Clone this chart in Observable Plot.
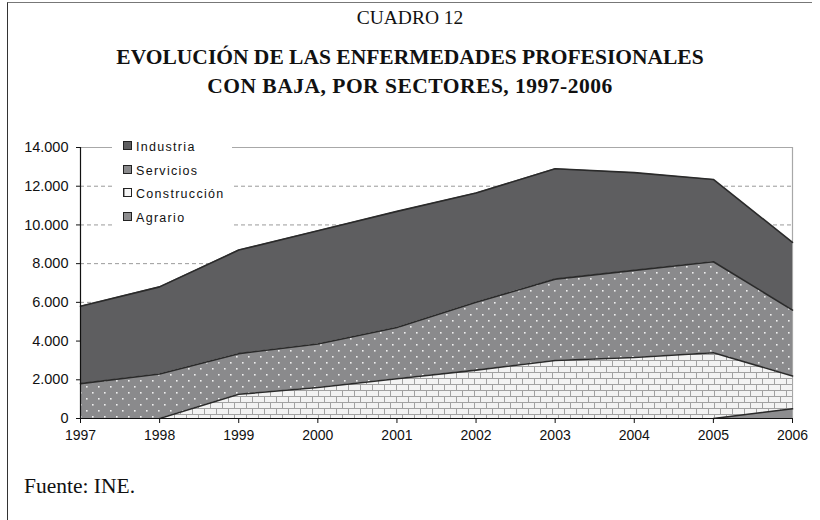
<!DOCTYPE html>
<html>
<head>
<meta charset="utf-8">
<script src="https://cdn.jsdelivr.net/npm/d3@7"></script>
<script src="https://cdn.jsdelivr.net/npm/@observablehq/plot@0.6"></script>
<style>
  html, body { margin: 0; padding: 0; background: #fff; }
  #page { position: relative; width: 820px; height: 520px; overflow: hidden; background: #fff; }
  #frame { position: absolute; left: 7px; top: 2px; width: 805px; height: 530px; border-left: 1.5px solid #333; border-top: 1.5px solid #777; box-sizing: border-box; }
  #title { position: absolute; left: 0; top: 0; width: 820px; height: 120px; text-align: center; font-family: "Liberation Serif", "Times New Roman", serif; color: #111; }
  #t1 { position: absolute; left: 0; width: 820px; top: 7px; font-size: 19.5px; }
  #t2 { position: absolute; left: 0; width: 820px; top: 45px; font-size: 21.5px; font-weight: bold; }
  #t3 { position: absolute; left: 0; width: 820px; top: 74px; font-size: 21.5px; font-weight: bold; letter-spacing: 0.5px; }
  #chart { position: absolute; left: 0; top: 120px; }
  #caption { position: absolute; left: 24px; top: 474px; font-family: "Liberation Serif", "Times New Roman", serif; font-size: 21.5px; color: #111; }
  #legend { position: absolute; left: 112px; top: 137px; width: 120px; height: 92px; background: #fff; font-family: "Liberation Sans", Arial, sans-serif; font-size: 12.5px; letter-spacing: 1.3px; color: #111; }
  .item { position: absolute; left: 11px; height: 14px; line-height: 14px; white-space: nowrap; }
  .sw { display: inline-block; width: 7px; height: 7px; border: 1px solid #222; vertical-align: 1px; margin-right: 4px; box-sizing: content-box; }
</style>
</head>
<body>
<div id="page">
  <div id="frame"></div>
  <div id="title">
    <div id="t1">CUADRO 12</div>
    <div id="t2">EVOLUCIÓN DE LAS ENFERMEDADES PROFESIONALES</div>
    <div id="t3">CON BAJA, POR SECTORES, 1997-2006</div>
  </div>
  <div id="chart"></div>
  <div id="legend"></div>
  <div id="caption">Fuente: INE.</div>
</div>
<script>
// ---- Data (number of cases per sector) ----
const years = [1997, 1998, 1999, 2000, 2001, 2002, 2003, 2004, 2005, 2006];
const agrario      = [0, 0, 0, 0, 0, 0, 0, 0, 0, 500];
const construccion = [0, 0, 1250, 1600, 2050, 2500, 3000, 3150, 3400, 1700];
const servicios    = [1800, 2300, 2100, 2250, 2650, 3500, 4200, 4500, 4700, 3400];
const industria    = [4000, 4500, 5350, 5850, 6000, 5650, 5700, 5050, 4250, 3500];
const sectors = ["Agrario", "Construcción", "Servicios", "Industria"]; // stack order, bottom to top
const legendOrder = ["Industria", "Servicios", "Construcción", "Agrario"];
const yTicks = [0, 2000, 4000, 6000, 8000, 10000, 12000, 14000];
const gridTicks = [2000, 4000, 6000, 8000, 10000, 12000];

const seriesValues = { "Agrario": agrario, "Construcción": construccion, "Servicios": servicios, "Industria": industria };
const data = [];
for (const s of sectors) years.forEach((yr, i) => data.push({ year: yr, sector: s, value: seriesValues[s][i] }));

const fills = { "Agrario": "#8d8d8f", "Construcción": "url(#brick)", "Servicios": "url(#dots)", "Industria": "#5e5e60" };
const fmt = d3.formatLocale({ decimal: ",", thousands: ".", grouping: [3], currency: ["", ""] }).format(",");

// line visibility: skip segments lying on the zero baseline
const lineFirstYear = { "Agrario": 2005, "Construcción": 1998, "Servicios": 1997, "Industria": 1997 };

const svg = Plot.plot({
  width: 820,
  height: 340,
  marginLeft: 80,
  marginRight: 28,
  marginTop: 27,
  marginBottom: 42,
  style: { fontFamily: "'Liberation Sans', Arial, sans-serif", fontSize: "13px", color: "#111", background: "transparent" },
  x: { domain: [1997, 2006], label: null },
  y: { domain: [0, 14000], label: null },
  color: { type: "ordinal", domain: sectors, range: sectors.map(s => fills[s]) },
  marks: [
    Plot.ruleY(gridTicks, { stroke: "#9a9a9a", strokeDasharray: "4,3", strokeWidth: 1 }),
    Plot.ruleY([14000], { stroke: "#a8a8a8", strokeWidth: 1.2 }),
    Plot.ruleX([2006], { y1: 0, y2: 14000, stroke: "#a8a8a8", strokeWidth: 1.2 }),
    Plot.areaY(data, { x: "year", y: "value", z: "sector", fill: "sector", order: sectors }),
    Plot.line(data, Plot.stackY2({ x: "year", y: "value", z: "sector", order: sectors,
      filter: d => d.year >= lineFirstYear[d.sector], stroke: "#2a2a2a", strokeWidth: 1.6 })),
    Plot.ruleX([1997], { y1: 0, y2: 14000, stroke: "#111", strokeWidth: 1.2 }),
    Plot.ruleY([0], { stroke: "#111", strokeWidth: 1.2 }),
    Plot.axisX({ ticks: years, tickFormat: d => String(d), tickSize: 5, tickPadding: 7, stroke: "#111", fontSize: 14, label: null }),
    Plot.axisY({ ticks: yTicks, tickFormat: fmt, tickSize: 4, tickPadding: 8, stroke: "#111", fontSize: 14.5, label: null })
  ]
});

// pattern definitions
const defs = d3.select(svg).insert("defs", ":first-child");
const brick = defs.append("pattern").attr("id", "brick").attr("patternUnits", "userSpaceOnUse")
  .attr("width", 24).attr("height", 12);
brick.append("rect").attr("width", 24).attr("height", 12).attr("fill", "#f3f3f3");
brick.append("path").attr("d", "M0,0.5H24M0,6.5H24M0.5,0V6M12.5,0V6M6.5,6V12M18.5,6V12")
  .attr("stroke", "#a2a2a2").attr("stroke-width", 1).attr("fill", "none");
const dots = defs.append("pattern").attr("id", "dots").attr("patternUnits", "userSpaceOnUse")
  .attr("width", 12).attr("height", 12);
dots.append("rect").attr("width", 12).attr("height", 12).attr("fill", "#8a8a8c");
dots.append("rect").attr("x", 2).attr("y", 2).attr("width", 1.6).attr("height", 1.6).attr("fill", "#f0f0f0");
dots.append("rect").attr("x", 8).attr("y", 8).attr("width", 1.6).attr("height", 1.6).attr("fill", "#f0f0f0");

document.getElementById("chart").appendChild(svg);

// legend
const swatchStyle = {
  "Industria": "background:#5e5e60;",
  "Servicios": "background:#8a8a8c;",
  "Construcción": "background:#f6f6f6;box-shadow: inset 3px 0 0 -2px #999;",
  "Agrario": "background:#8d8d8f;"
};
const legend = document.getElementById("legend");
legendOrder.forEach((s, i) => {
  const el = document.createElement("div");
  el.className = "item";
  el.style.top = (3 + i * 23.5) + "px";
  el.innerHTML = `<span class="sw" style="${swatchStyle[s]}"></span>${s}`;
  legend.appendChild(el);
});
</script>
</body>
</html>
